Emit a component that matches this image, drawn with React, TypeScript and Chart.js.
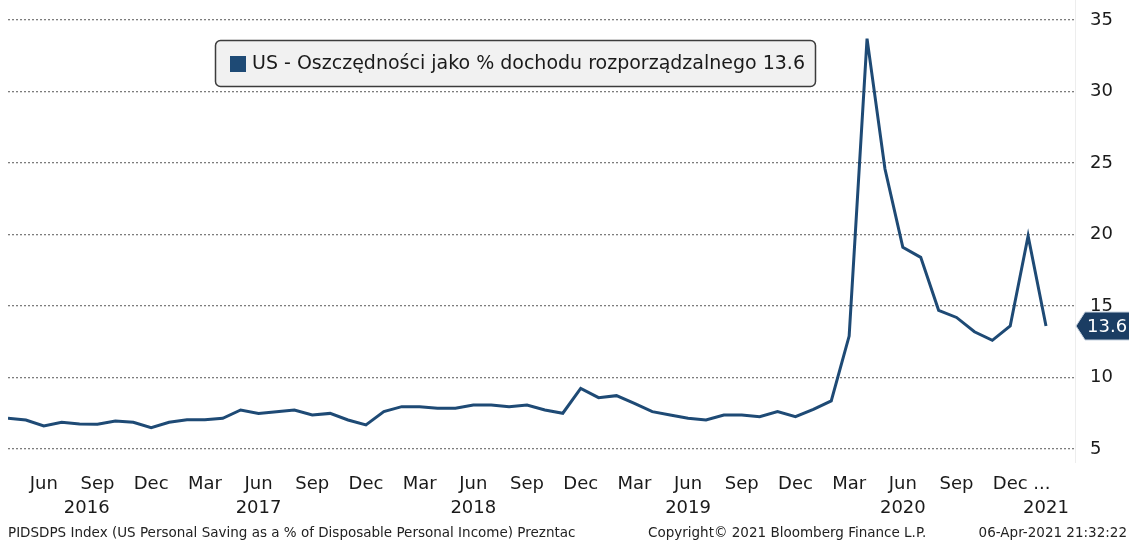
import React, { useEffect, useRef } from 'react';
import { Chart, registerables } from 'chart.js';

Chart.register(...registerables);

// ---- Data ----
const months = [
  'Apr 2016', 'May 2016', 'Jun 2016', 'Jul 2016', 'Aug 2016', 'Sep 2016', 'Oct 2016', 'Nov 2016', 'Dec 2016',
  'Jan 2017', 'Feb 2017', 'Mar 2017', 'Apr 2017', 'May 2017', 'Jun 2017', 'Jul 2017', 'Aug 2017', 'Sep 2017', 'Oct 2017', 'Nov 2017', 'Dec 2017',
  'Jan 2018', 'Feb 2018', 'Mar 2018', 'Apr 2018', 'May 2018', 'Jun 2018', 'Jul 2018', 'Aug 2018', 'Sep 2018', 'Oct 2018', 'Nov 2018', 'Dec 2018',
  'Jan 2019', 'Feb 2019', 'Mar 2019', 'Apr 2019', 'May 2019', 'Jun 2019', 'Jul 2019', 'Aug 2019', 'Sep 2019', 'Oct 2019', 'Nov 2019', 'Dec 2019',
  'Jan 2020', 'Feb 2020', 'Mar 2020', 'Apr 2020', 'May 2020', 'Jun 2020', 'Jul 2020', 'Aug 2020', 'Sep 2020', 'Oct 2020', 'Nov 2020', 'Dec 2020',
  'Jan 2021', 'Feb 2021',
];

const savingRate = [
  7.15, 7.03, 6.61, 6.87, 6.75, 6.73, 6.96, 6.87, 6.49,
  6.87, 7.05, 7.05, 7.15, 7.73, 7.49, 7.61, 7.73, 7.38, 7.49, 7.03, 6.68,
  7.61, 7.96, 7.96, 7.85, 7.85, 8.08, 8.08, 7.96, 8.08, 7.73, 7.5, 9.24,
  8.59, 8.73, 8.19, 7.61, 7.38, 7.15, 7.03, 7.38, 7.38, 7.26, 7.61, 7.26,
  7.77, 8.36, 12.9, 33.7, 24.6, 19.1, 18.4, 14.7, 14.2, 13.2, 12.6, 13.6,
  19.9, 13.6,
];

const monthTickIdx = [2, 5, 8, 11, 14, 17, 20, 23, 26, 29, 32, 35, 38, 41, 44, 47, 50, 53, 56];
const monthTickLabels = ['Jun', 'Sep', 'Dec', 'Mar', 'Jun', 'Sep', 'Dec', 'Mar', 'Jun', 'Sep', 'Dec', 'Mar', 'Jun', 'Sep', 'Dec', 'Mar', 'Jun', 'Sep', '    Dec ...'];
const yearTickIdx = [4.4, 14, 26, 38, 50, 58];
const yearTickLabels = ['2016', '2017', '2018', '2019', '2020', '2021'];
const yTicks = [5, 10, 15, 20, 25, 30, 35];

const seriesLabel = 'US - Oszczędności jako % dochodu rozporządzalnego';
const lastValueLabel = '13.6';
const footerLeft = 'PIDSDPS Index (US Personal Saving as a % of Disposable Personal Income) Prezntac';
const footerMid = 'Copyright© 2021 Bloomberg Finance L.P.';
const footerRight = '06-Apr-2021 21:32:22';

const LINE_COLOR = '#1e4a75';
const FONT = 'DejaVu Sans';

// combined x tick definitions (two lines: month / year)
function buildXTicks() {
  const map = new Map<number, [string, string]>();
  monthTickIdx.forEach((v, i) => map.set(v, [monthTickLabels[i], '']));
  yearTickIdx.forEach((v, i) => {
    const cur = map.get(v);
    if (cur) cur[1] = yearTickLabels[i];
    else map.set(v, ['', yearTickLabels[i]]);
  });
  return Array.from(map.entries())
    .sort((a, b) => a[0] - b[0])
    .map(([value, label]) => ({ value, label }));
}

const decorPlugin = {
  id: 'decor',
  afterDraw(chart: any) {
    const ctx = chart.ctx as CanvasRenderingContext2D;
    const area = chart.chartArea;
    const yScale = chart.scales.y;
    ctx.save();

    // faint right border of plot
    ctx.strokeStyle = '#ededed';
    ctx.lineWidth = 1;
    ctx.beginPath();
    ctx.moveTo(area.right + 0.5, area.top);
    ctx.lineTo(area.right + 0.5, area.bottom);
    ctx.stroke();

    // legend box
    ctx.font = `19px "${FONT}"`;
    const text = `${seriesLabel} ${lastValueLabel}`;
    const tw = ctx.measureText(text).width;
    const bx = 215, by = 40, bh = 46;
    const bw = 252 - bx + tw + 10;
    ctx.beginPath();
    (ctx as any).roundRect(bx + 0.5, by + 0.5, bw, bh, 5);
    ctx.fillStyle = '#f1f1f1';
    ctx.fill();
    ctx.strokeStyle = '#3c3c3c';
    ctx.lineWidth = 1.5;
    ctx.stroke();
    ctx.fillStyle = LINE_COLOR;
    ctx.fillRect(230, 56, 16, 16);
    ctx.fillStyle = '#1a1a1a';
    ctx.textBaseline = 'middle';
    ctx.textAlign = 'left';
    ctx.fillText(text, 252, by + bh / 2 + 1);

    // last value tag
    const last = savingRate[savingRate.length - 1];
    const ty = yScale.getPixelForValue(last);
    const x0 = area.right + 1;
    const h = 14;
    ctx.beginPath();
    ctx.moveTo(x0, ty);
    ctx.lineTo(x0 + 9, ty - h);
    ctx.lineTo(chart.width + 2, ty - h);
    ctx.lineTo(chart.width + 2, ty + h);
    ctx.lineTo(x0 + 9, ty + h);
    ctx.closePath();
    ctx.fillStyle = '#1b3d63';
    ctx.fill();
    ctx.strokeStyle = '#c8d3e0';
    ctx.lineWidth = 1;
    ctx.stroke();
    ctx.fillStyle = '#ffffff';
    ctx.font = `18px "${FONT}"`;
    ctx.fillText(lastValueLabel, x0 + 11, ty + 1);

    // footer
    ctx.font = `13.5px "${FONT}"`;
    ctx.fillStyle = '#222222';
    ctx.textBaseline = 'middle';
    ctx.textAlign = 'left';
    ctx.fillText(footerLeft, 8, 533);
    ctx.fillText(footerMid, 648, 533);
    ctx.textAlign = 'right';
    ctx.fillText(footerRight, 1127, 533);
    ctx.restore();
  },
};

export default function App() {
  const ref = useRef<HTMLCanvasElement | null>(null);

  useEffect(() => {
    if (!ref.current) return;
    const xTicks = buildXTicks();
    const chart = new Chart(ref.current, {
      type: 'line',
      data: {
        labels: months,
        datasets: [
          {
            label: seriesLabel,
            data: savingRate.map((v, i) => ({ x: i, y: v })),
            borderColor: LINE_COLOR,
            backgroundColor: LINE_COLOR,
            borderWidth: 3,
            pointRadius: 0,
            tension: 0,
            fill: false,
          },
        ],
      },
      options: {
        animation: false,
        responsive: false,
        layout: { padding: { left: 8, right: 0, top: 0, bottom: 0 } },
        plugins: { legend: { display: false }, tooltip: { enabled: false } },
        scales: {
          x: {
            type: 'linear',
            min: 0,
            max: 59.62,
            grid: { display: false },
            border: { display: false },
            afterBuildTicks: (scale: any) => {
              scale.ticks = xTicks.map((t) => ({ value: t.value }));
            },
            afterFit: (scale: any) => {
              scale.height = 78;
              scale.paddingLeft = 0;
              scale.paddingRight = 0;
            },
            ticks: {
              autoSkip: false,
              maxRotation: 0,
              minRotation: 0,
              padding: 1,
              color: '#1a1a1a',
              font: { family: FONT, size: 18, lineHeight: '24px' } as any,
              callback: (_v: any, i: number) => xTicks[i] ? xTicks[i].label : '',
            },
          },
          y: {
            type: 'linear',
            position: 'right',
            min: 4.02,
            max: 36.4,
            grid: { color: '#7d7d7d', lineWidth: 1.3, drawTicks: false },
            border: { display: false, dash: [2, 2] },
            afterBuildTicks: (scale: any) => {
              scale.ticks = yTicks.map((v) => ({ value: v }));
            },
            afterFit: (scale: any) => {
              scale.width = 54;
              scale.paddingTop = 0;
              scale.paddingBottom = 0;
            },
            ticks: {
              padding: 15,
              color: '#1a1a1a',
              font: { family: FONT, size: 18 },
              callback: (v: any) => String(v),
            },
          },
        },
      } as any,
      plugins: [decorPlugin],
    });
    return () => chart.destroy();
  }, []);

  return (
    <div style={{ position: 'fixed', left: 0, top: 0, width: 1129, height: 541, background: '#ffffff' }}>
      <canvas ref={ref} width={1129} height={541} style={{ display: 'block' }} />
    </div>
  );
}
